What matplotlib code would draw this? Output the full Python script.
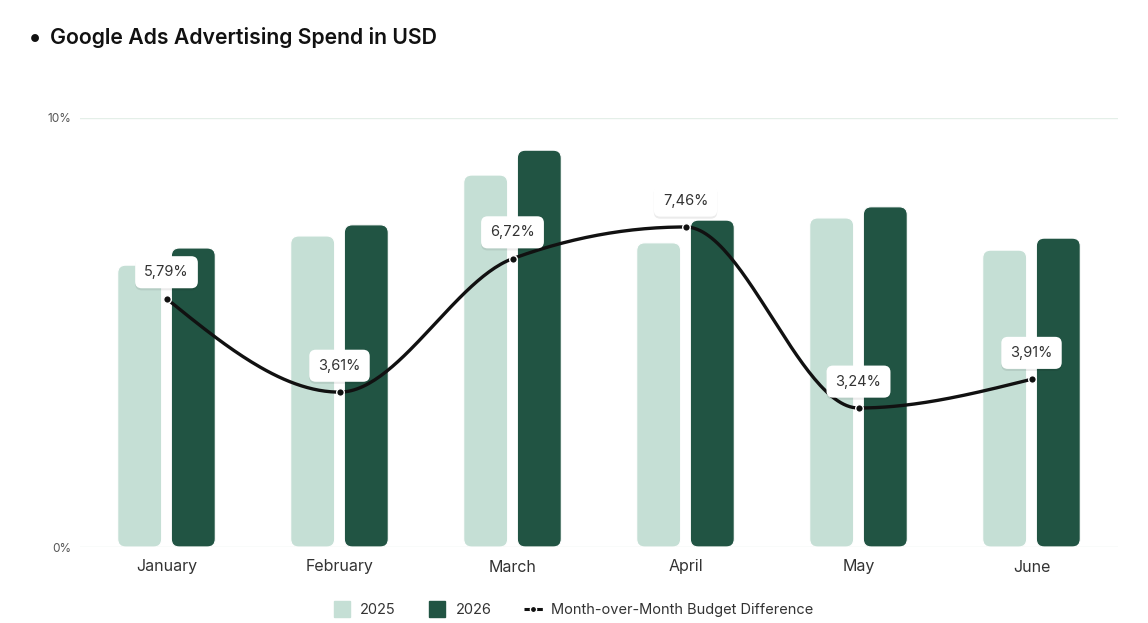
import numpy as np
import matplotlib
matplotlib.use("Agg")
import matplotlib.pyplot as plt
from matplotlib.patches import FancyBboxPatch
from matplotlib.lines import Line2D
import matplotlib.patheffects as pe

# ---- data ----
months = ["January", "February", "March", "April", "May", "June"]
spend_2025 = [6570, 7250, 8670, 7090, 7670, 6920]   # USD (hidden scale)
spend_2026 = [6970, 7510, 9250, 7620, 7930, 7200]
mom_diff = [5.79, 3.61, 6.72, 7.46, 3.24, 3.91]      # percent
y_ticks = [0, 10]
y_tick_labels = ["0%", "10%"]

C25 = "#c5dfd5"
C26 = "#215443"
FONT = ["Inter", "DejaVu Sans"]
plt.rcParams["font.family"] = FONT

W, H = 1148, 623
fig = plt.figure(figsize=(W / 100, H / 100), dpi=100)
ax = fig.add_axes([80 / W, 1 - 547 / H, 1038 / W, 429 / H])
ax2 = ax.twinx()

x = np.arange(len(months))
bw = 0.254
off = 0.155
ymax_usd = 10000
ax.set_xlim(-0.5, len(months) - 0.5)
ax.set_ylim(0, ymax_usd)

xu_per_px = len(months) / 1038
yu_per_px = ymax_usd / 429
aspect = yu_per_px / xu_per_px
r = 8 * xu_per_px

def rbar(xc, h, color):
    p = FancyBboxPatch((xc - bw / 2, 0), bw, h,
                       boxstyle=f"round,pad=0,rounding_size={r}",
                       mutation_aspect=aspect, facecolor=color,
                       edgecolor="white", linewidth=0.8, zorder=2)
    ax.add_patch(p)

for i in range(len(months)):
    rbar(x[i] - off, spend_2025[i], C25)
    rbar(x[i] + off, spend_2026[i], C26)

ax.set_yticks([])
for s in ax.spines.values():
    s.set_visible(False)
ax.set_xticks(x)
ax.set_xticklabels(months, fontsize=11.5, color="#333333")
ax.tick_params(axis="x", length=0, pad=9)

# line axis
ax2.set_ylim(0, 10)
ax2.yaxis.tick_left()
ax2.set_yticks(y_ticks)
ax2.set_yticklabels(y_tick_labels, fontsize=8.5, color="#555555")
ax2.tick_params(axis="y", length=0, pad=6)
for s in ax2.spines.values():
    s.set_visible(False)
for yv in y_ticks:
    ax2.axhline(yv, color="#e4efe8", lw=1, zorder=0)

def monotone(xs, ys, n=60):
    xs = np.asarray(xs, float); ys = np.asarray(ys, float)
    h = np.diff(xs); s = np.diff(ys) / h
    m = np.zeros(len(xs))
    for i in range(1, len(xs) - 1):
        s0, s1 = s[i - 1], s[i]
        p = (s0 * h[i] + s1 * h[i - 1]) / (h[i - 1] + h[i])
        m[i] = (np.sign(s0) + np.sign(s1)) * min(abs(s0), abs(s1), 0.5 * abs(p))
    m[0] = (3 * s[0] - m[1]) / 2
    m[-1] = (3 * s[-1] - m[-2]) / 2
    X, Y = [], []
    for i in range(len(xs) - 1):
        t = np.linspace(0, 1, n)
        h00 = 2 * t**3 - 3 * t**2 + 1
        h10 = t**3 - 2 * t**2 + t
        h01 = -2 * t**3 + 3 * t**2
        h11 = t**3 - t**2
        X.append(xs[i] + t * h[i])
        Y.append(h00 * ys[i] + h10 * h[i] * m[i] + h01 * ys[i + 1] + h11 * h[i] * m[i + 1])
    return np.concatenate(X), np.concatenate(Y)

lx, ly = monotone(x, mom_diff)
ax2.plot(lx, ly, color="#111111", lw=2.4, zorder=5, solid_capstyle="round")
ax2.scatter(x, mom_diff, s=30, color="#111111", edgecolor="white", linewidth=1.0, zorder=6)

for xi, v in zip(x, mom_diff):
    t = ax2.annotate(f"{v:.2f}%".replace(".", ","), (xi, v), xytext=(0, 19),
                     textcoords="offset points", ha="center", va="center",
                     fontsize=10.5, color="#333333", zorder=7,
                     bbox=dict(boxstyle="round,pad=0.62,rounding_size=0.45",
                               facecolor="white", edgecolor="none"))
    t.get_bbox_patch().set_path_effects([
        pe.SimplePatchShadow(offset=(0, -1.5), shadow_rgbFace="#000000", alpha=0.08),
        pe.Normal()])

# title
fig.text(28 / W, 1 - 38 / H, "\u2022", fontsize=18, va="center", ha="left", color="#111111")
fig.text(50 / W, 1 - 38 / H, "Google Ads Advertising Spend in USD", fontsize=15.3,
         fontweight="semibold", va="center", ha="left", color="#111111")

# legend
handles = [
    Line2D([0], [0], marker="s", linestyle="none", markersize=11,
           markerfacecolor=C25, markeredgecolor=C25),
    Line2D([0], [0], marker="s", linestyle="none", markersize=11,
           markerfacecolor=C26, markeredgecolor=C26),
    Line2D([0], [0], color="#111111", lw=2.2, linestyle=(0, (2.2, 1.6)),
           marker="o", markersize=4.5, markerfacecolor="#111111", markeredgecolor="white"),
]
fig.legend(handles, ["2025", "2026", "Month-over-Month Budget Difference"],
           loc="center", bbox_to_anchor=(573 / W, 1 - 610 / H), ncol=3,
           frameon=False, fontsize=10.5, handlelength=1.3, handletextpad=0.6,
           columnspacing=2.2, labelcolor="#333333")

fig.savefig("out.png", dpi=100, facecolor="white")
